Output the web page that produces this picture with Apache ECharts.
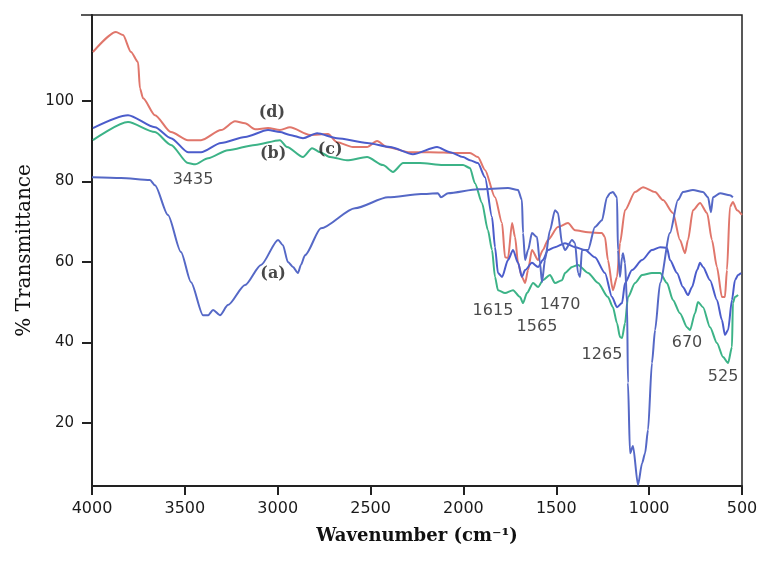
<!DOCTYPE html>
<html>
<head>
<meta charset="utf-8">
<script src="https://cdn.jsdelivr.net/npm/echarts@6/dist/echarts.min.js"></script>
<style>
  html, body { margin: 0; padding: 0; background: #fff; }
  #chart { width: 772px; height: 563px; }
</style>
</head>
<body>
<div id="chart"></div>
<script>
// FTIR spectra, [wavenumber (cm-1), %T]
const curveA = [
  [4000, 81.1], [3844, 80.9], [3688, 80.4], [3661, 79.1], [3591, 71.7], [3521, 62.5],
  [3467, 55], [3402, 46.8], [3375, 46.8], [3348, 48.1], [3311, 46.8], [3268, 49.3],
  [3176, 54.3], [3090, 59.3], [2998, 65.5], [2972, 64.2], [2945, 60], [2918, 58.8],
  [2891, 57.3], [2875, 59.3], [2853, 61.7], [2767, 68.4], [2584, 73.4], [2406, 76.1],
  [2228, 76.9], [2137, 77.1], [2121, 76.1], [2083, 77.1], [1922, 78.1], [1760, 78.4],
  [1706, 77.9], [1685, 75.4], [1679, 67.2], [1668, 60.5], [1652, 63], [1631, 67.2],
  [1604, 66.2], [1588, 59.8], [1577, 55], [1561, 60.5], [1534, 67.9], [1507, 72.9],
  [1491, 72.2], [1469, 64.7], [1453, 63], [1415, 65.5], [1399, 64.7], [1383, 57.3],
  [1372, 56.3], [1362, 63], [1329, 63], [1292, 68.7], [1254, 70.4], [1227, 76.1],
  [1211, 77.1], [1195, 77.4], [1173, 76.1], [1168, 63], [1157, 56.3], [1146, 61.2],
  [1141, 62.2], [1130, 59.8], [1119, 49.8], [1114, 30], [1103, 12.5], [1087, 14.3],
  [1060, 4.6], [1038, 10], [1022, 12.5], [1006, 18.3], [985, 34.9], [968, 43.1],
  [941, 54.8], [888, 67.2], [845, 75.4], [818, 77.4], [764, 77.9], [710, 77.4],
  [683, 76.1], [667, 72.4], [656, 76.1], [618, 77.1], [565, 76.6], [549, 76.1]
];
const curveB = [
  [3995, 93.3], [3806, 96.5], [3661, 93.5], [3575, 90.8], [3483, 87.3], [3413, 87.3],
  [3305, 89.6], [3176, 91.1], [3052, 92.8], [2988, 92.3], [2934, 91.6], [2864, 90.8],
  [2788, 92], [2681, 90.8], [2519, 89.6], [2395, 88.6], [2272, 86.8], [2142, 88.6],
  [2072, 87.3], [2002, 86.1], [1965, 85.3], [1922, 84.6], [1884, 81.1], [1846, 71.2],
  [1830, 63.7], [1814, 57.3], [1792, 56.3], [1760, 60.5], [1733, 63], [1706, 59.8],
  [1685, 56.3], [1668, 58], [1631, 59.8], [1598, 58.8], [1572, 60.5], [1545, 63],
  [1507, 63.7], [1453, 64.7], [1399, 63.7], [1345, 63], [1292, 61.2], [1238, 57.3],
  [1200, 51.3], [1173, 48.8], [1146, 49.8], [1130, 54.8], [1092, 58], [1038, 60.5],
  [985, 63], [941, 63.7], [904, 63.5], [888, 60.5], [850, 57.3], [818, 53.8],
  [791, 51.8], [769, 53.8], [742, 58], [726, 59.8], [710, 58.8], [672, 55.5],
  [635, 50.6], [608, 45.6], [592, 41.9], [575, 43.1], [554, 50.6], [538, 55.5],
  [521, 56.8], [505, 57.3]
];
const curveC = [
  [3995, 90.3], [3806, 94.8], [3661, 92.3], [3575, 89.1], [3483, 84.6], [3445, 84.3],
  [3375, 85.8], [3268, 87.8], [3122, 89.1], [2988, 90.3], [2950, 88.6], [2864, 86.1],
  [2815, 88.3], [2772, 87.3], [2718, 86.1], [2627, 85.3], [2519, 86.1], [2433, 84.1],
  [2379, 82.4], [2325, 84.6], [2234, 84.6], [2110, 84.1], [2002, 84.1], [1965, 83.4],
  [1938, 79.6], [1900, 74.7], [1868, 67.9], [1846, 63], [1830, 56.3], [1814, 53],
  [1776, 52.3], [1733, 53], [1695, 51.3], [1679, 49.8], [1658, 52.3], [1625, 54.8],
  [1598, 53.8], [1572, 55.5], [1534, 56.8], [1507, 54.8], [1469, 55.5], [1453, 57.3],
  [1415, 58.8], [1383, 59.3], [1329, 57.3], [1275, 54.8], [1222, 51.3], [1195, 48.8],
  [1173, 44.8], [1157, 41.4], [1146, 41.1], [1130, 44.8], [1114, 51.3], [1076, 54.8],
  [1038, 56.8], [985, 57.3], [941, 57.3], [904, 54.8], [872, 50.6], [834, 47.3],
  [796, 43.8], [780, 43.1], [753, 47.3], [737, 50.1], [710, 48.8], [672, 43.8],
  [635, 39.9], [602, 36.4], [575, 34.9], [554, 38.9], [549, 49.8], [538, 51.3],
  [521, 51.8]
];
const curveD = [
  [3995, 112.2], [3871, 117.2], [3833, 116.4], [3790, 112.2], [3752, 109.7], [3742, 103.2],
  [3725, 100.7], [3661, 96.5], [3575, 92.3], [3483, 90.3], [3413, 90.3], [3305, 92.8],
  [3230, 95], [3176, 94.5], [3122, 93], [3052, 93.3], [2988, 92.8], [2934, 93.5],
  [2826, 91.6], [2729, 91.8], [2681, 89.8], [2595, 88.6], [2519, 88.6], [2465, 90.1],
  [2412, 88.6], [2288, 87.3], [2180, 87.3], [2035, 87.1], [1965, 87.1], [1922, 86.1],
  [1884, 82.9], [1830, 76.1], [1792, 69.7], [1776, 61.2], [1760, 61], [1738, 69.7],
  [1722, 66.2], [1706, 59.8], [1685, 56.3], [1668, 54.8], [1652, 58], [1631, 63],
  [1598, 60.5], [1572, 63], [1545, 65.5], [1491, 68.7], [1437, 69.7], [1399, 67.9],
  [1329, 67.4], [1254, 67.2], [1238, 66.2], [1222, 60.5], [1195, 53], [1173, 56.3],
  [1157, 64.7], [1130, 72.9], [1076, 77.4], [1033, 78.6], [968, 77.4], [925, 75.4],
  [872, 72.2], [834, 65.5], [807, 62.2], [791, 65.5], [764, 72.9], [726, 74.7],
  [688, 72.2], [662, 65.5], [635, 58.8], [608, 51.3], [592, 51.3], [581, 58],
  [565, 73.7], [549, 74.9], [527, 72.9], [500, 71.7]
];

// peak annotations
const peakText = ['3435', '1615', '1565', '1470', '1265', '670', '525'];
const peakX = [3456, 1841, 1604, 1480, 1254, 796, 602];
const peakY = [80.4, 48, 44, 49.3, 36.9, 39.9, 31.4];

const curveText = ['(a)', '(b)', '(c)', '(d)'];
const curveX = [3025, 3025, 2718, 3031];
const curveY = [57, 86.8, 88, 97];

const yTicks = [20, 40, 60, 80, 100];

const lineSeries = (name, data, color) => ({
  name,
  type: 'line',
  data,
  showSymbol: false,
  smooth: 0.25,
  smoothMonotone: 'x',
  lineStyle: { color, width: 2 },
  silent: true,
});

const labelSeries = (texts, xs, ys, font) => ({
  type: 'scatter',
  symbolSize: 1,
  itemStyle: { color: 'rgba(0,0,0,0)' },
  data: texts.map((t, i) => ({ name: t, value: [xs[i], ys[i]] })),
  label: {
    show: true,
    position: 'inside',
    formatter: '{b}',
    color: '#1a1a1a',
    ...font,
  },
  silent: true,
  z: 5,
});

const chart = echarts.init(document.getElementById('chart'));

const option = {
  animation: false,
  backgroundColor: '#ffffff',
  grid: {
    left: 92,
    right: 30,
    top: 15,
    bottom: 77,
    show: true,
    borderColor: '#222',
    borderWidth: 1.5,
  },
  xAxis: {
    type: 'value',
    inverse: true,
    min: 500,
    max: 4000,
    interval: 500,
    name: 'Wavenumber (cm\u207B\u00B9)',
    nameLocation: 'middle',
    nameGap: 41,
    nameTextStyle: {
      fontFamily: 'DejaVu Serif',
      fontWeight: 'bold',
      fontSize: 18,
      color: '#111',
    },
    axisLine: { onZero: false, lineStyle: { color: '#222', width: 2 } },
    axisTick: { length: 9, lineStyle: { color: '#222', width: 2 } },
    axisLabel: {
      margin: 15,
      fontFamily: 'DejaVu Sans',
      fontSize: 16,
      color: '#1a1a1a',
      formatter: (v) => String(v),
    },
    splitLine: { show: false },
  },
  yAxis: {
    type: 'value',
    min: 4.35,
    max: 121.4,
    name: '% Transmittance',
    nameLocation: 'middle',
    nameGap: 47,
    nameTextStyle: {
      fontFamily: 'DejaVu Serif',
      fontSize: 20,
      color: '#111',
    },
    axisLine: { show: true, onZero: false, lineStyle: { color: '#222', width: 2 } },
    axisTick: { show: true, length: 10, customValues: yTicks, lineStyle: { color: '#222', width: 2 } },
    axisLabel: {
      customValues: yTicks,
      margin: 18,
      fontFamily: 'DejaVu Sans',
      fontSize: 15,
      color: '#1a1a1a',
    },
    splitLine: { show: false },
  },
  graphic: [
    {
      type: 'line',
      shape: { x1: 81, y1: 15, x2: 92, y2: 15 },
      style: { stroke: '#222', lineWidth: 1.5 },
      silent: true,
    },
  ],
  series: [
    lineSeries('d', curveD, '#e0766b'),
    lineSeries('c', curveC, '#3cb387'),
    lineSeries('b', curveB, '#4b5ccb'),
    lineSeries('a', curveA, '#5568c6'),
    labelSeries(peakText, peakX, peakY, { fontFamily: 'DejaVu Sans', fontSize: 16 }),
    labelSeries(curveText, curveX, curveY, { fontFamily: 'DejaVu Serif', fontWeight: 'bold', fontSize: 16 }),
  ],
};

chart.setOption(option);
window.addEventListener('resize', () => chart.resize());
</script>
</body>
</html>
